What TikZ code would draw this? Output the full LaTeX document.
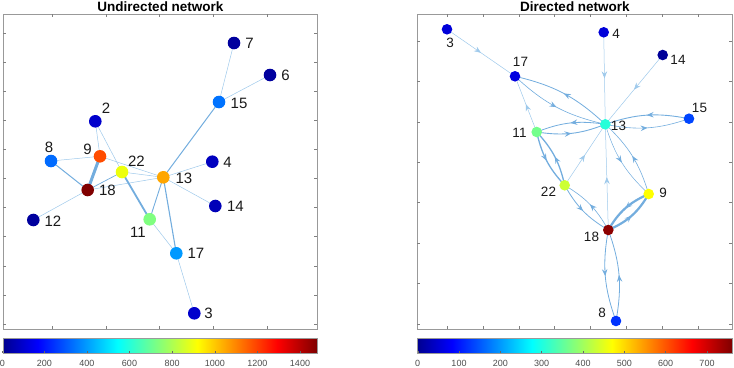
\documentclass[tikz,border=0pt]{standalone}
\usepackage{fontspec}
\setmainfont{Liberation Sans}
\usetikzlibrary{arrows.meta,decorations.markings}
\pgfdeclarehorizontalshading{jetmap}{100bp}{rgb(0bp)=(0,0,0.56); rgb(25bp)=(0,0,0.56); rgb(30.56bp)=(0,0,1); rgb(43.25bp)=(0,1,1); rgb(55.95bp)=(1,1,0); rgb(68.65bp)=(1,0,0); rgb(75bp)=(0.5,0,0); rgb(100bp)=(0.5,0,0)}
\definecolor{ethin}{rgb}{0.62,0.79,0.92}
\definecolor{emed}{rgb}{0.45,0.68,0.87}
\definecolor{labc}{rgb}{0.1,0.1,0.1}
\definecolor{jnavy}{rgb}{0,0,0.62}
\definecolor{jdblue}{rgb}{0,0,0.8}
\definecolor{jblueA}{rgb}{0,0,0.75}
\definecolor{jblueB}{rgb}{0,0,0.72}
\definecolor{jblueC}{rgb}{0,0,0.85}
\definecolor{jblueD}{rgb}{0,0,0.88}
\definecolor{jnavyR}{rgb}{0,0,0.6}
\definecolor{jmid}{rgb}{0,0.45,1}
\definecolor{jmidB}{rgb}{0,0.42,1}
\definecolor{jlight}{rgb}{0,0.6,1}
\definecolor{jbR15}{rgb}{0,0.27,1}
\definecolor{jbR8}{rgb}{0,0.2,1}
\definecolor{jorred}{rgb}{1,0.3,0}
\definecolor{jyel}{rgb}{0.93,1,0.05}
\definecolor{jyelR}{rgb}{1,1,0}
\definecolor{jygR}{rgb}{0.8,1,0.2}
\definecolor{jorange}{rgb}{1,0.65,0}
\definecolor{jdred}{rgb}{0.5,0,0}
\definecolor{jdredR}{rgb}{0.55,0,0}
\definecolor{jgreen}{rgb}{0.5,1,0.5}
\definecolor{jgreenR}{rgb}{0.45,1,0.55}
\definecolor{jcyan}{rgb}{0.15,1,0.85}
\tikzset{
  frame/.style={draw=black!40, line width=0.6pt},
  tk/.style={draw=black!50, line width=0.5pt},
  dotL/.style={circle, inner sep=0pt, minimum size=12.6pt, fill=#1, draw=none},
  dotR/.style={circle, inner sep=0pt, minimum size=10.6pt, fill=#1, draw=none},
  labL/.style={text=labc, font=\fontsize{15}{15}\selectfont, inner sep=0pt},
  labR/.style={text=labc, font=\fontsize{13.5}{13.5}\selectfont, inner sep=0pt},
  cbl/.style={text=black!70, font=\fontsize{9}{9}\selectfont, inner sep=0pt},
  ttl/.style={text=black, font=\fontsize{13.5}{13.5}\selectfont\bfseries, inner sep=0pt, anchor=base},
  ea/.style={draw=ethin, line width=0.5pt},
  eb/.style={draw=emed, line width=#1},
  arr/.style={postaction={decorate}, decoration={markings, mark=at position 0.5 with {\arrow{Stealth[length=7pt,width=5.5pt,inset=2.5pt]}}}},
  da/.style={ea, arr, color=ethin},
  db/.style={eb=#1, arr, color=emed},
}
\begin{document}
\begin{tikzpicture}[x=1pt,y=1pt]
\useasboundingbox (0,0) rectangle (734,-367);
% ---------- titles
\node[ttl] (t1) at (160.5,-11) {Undirected network};
\node[ttl] (t2) at (575,-11) {Directed network};
% ---------- frames
\draw[frame] (3,-14) rectangle (317,-329);
\draw[frame] (417,-14) rectangle (732,-329);
\foreach \x in {52.3,106,159.7,213.4,267} {
  \draw[tk] (\x,-14) -- (\x,-17);
  \draw[tk] (\x,-329) -- (\x,-326);
}
\foreach \k in {0,...,10} {
  \draw[tk] (3,-33-29.1*\k) -- (6,-33-29.1*\k);
  \draw[tk] (317,-33-29.1*\k) -- (314,-33-29.1*\k);
}
\foreach \k in {0,...,7} {
  \draw[tk] (447+35.9*\k,-14) -- (447+35.9*\k,-17);
  \draw[tk] (447+35.9*\k,-329) -- (447+35.9*\k,-326);
  \draw[tk] (417,-41-40.4*\k) -- (420,-41-40.4*\k);
  \draw[tk] (732,-41-40.4*\k) -- (729,-41-40.4*\k);
}
% ---------- colorbars
\shade[shading=jetmap] (3,-338) rectangle (317,-353);
\draw[frame] (3,-338) rectangle (317,-353);
\shade[shading=jetmap] (417,-338) rectangle (732,-353);
\draw[frame] (417,-338) rectangle (732,-353);
\foreach \x/\v in {2.5/0,44.3/200,86.9/400,129.5/600,172.1/800,214.8/1000,257.4/1200,300/1400} {
  \node[cbl] at (\x,-363) {\v};
  \draw[black!60, line width=0.4pt] (\x,-353) -- (\x,-351);
}
\foreach \x/\v in {417.7/0,459/100,500.3/200,541.6/300,583/400,624.3/500,665.6/600,707/700} {
  \node[cbl] at (\x,-363) {\v};
  \draw[black!60, line width=0.4pt] (\x,-353) -- (\x,-351);
}
% ---------- undirected network: positions
\coordinate (L7) at (234,-43);
\coordinate (L6) at (270,-75);
\coordinate (L15) at (219,-102);
\coordinate (L2) at (95.3,-121.3);
\coordinate (L8) at (51,-161);
\coordinate (L9) at (100,-156.3);
\coordinate (L22) at (122,-172);
\coordinate (L4) at (212.3,-161.7);
\coordinate (L13) at (163.3,-177.3);
\coordinate (L18) at (87.7,-190);
\coordinate (L14) at (215.3,-206);
\coordinate (L12) at (33.3,-220);
\coordinate (L11) at (149.7,-219.3);
\coordinate (L17) at (176.3,-253.3);
\coordinate (L3) at (194.3,-313.3);
% edges
\draw[ea] (L7) -- (L15);
\draw[ea] (L6) -- (L15);
\draw[eb=1pt] (L15) -- (L13);
\draw[ea] (L2) -- (L9);
\draw[ea] (L2) -- (L22);
\draw[ea] (L8) -- (L9);
\draw[eb=1pt] (L8) -- (L18);
\draw[ea] (L9) -- (L13);
\draw[ea] (L22) -- (L13);
\draw[eb=0.7pt] (L18) -- (L22);
\draw[ea] (L18) -- (L13);
\draw[ea] (L18) -- (L12);
\draw[eb=1.8pt] (L22) -- (L11);
\draw[eb=0.9pt] (L13) -- (L11);
\draw[eb=1.1pt] (L13) -- (L17);
\draw[ea] (L13) -- (L4);
\draw[ea] (L13) -- (L14);
\draw[ea] (L11) -- (L17);
\draw[ea] (L17) -- (L3);
\draw[eb=3pt] (L9) -- (L18);
% nodes
\node[dotL=jnavy] (n7) at (L7) {};
\node[dotL=jnavy] (n6) at (L6) {};
\node[dotL=jmid] (n15) at (L15) {};
\node[dotL=jdblue] (n2) at (L2) {};
\node[dotL=jmidB] (n8) at (L8) {};
\node[dotL=jorred] (n9) at (L9) {};
\node[dotL=jyel] (n22) at (L22) {};
\node[dotL=jblueA] (n4) at (L4) {};
\node[dotL=jorange] (n13) at (L13) {};
\node[dotL=jdred] (n18) at (L18) {};
\node[dotL=jblueB] (n14) at (L14) {};
\node[dotL=jnavy] (n12) at (L12) {};
\node[dotL=jgreen] (n11) at (L11) {};
\node[dotL=jlight] (n17) at (L17) {};
\node[dotL=jdblue] (n3) at (L3) {};
% labels
\node[labL] (l7) at (249.5,-43) {7};
\node[labL] (l6) at (285.5,-75.5) {6};
\node[labL] (l15) at (239,-103) {15};
\node[labL] (l2) at (106,-108) {2};
\node[labL] (l8) at (49,-147) {8};
\node[labL] (l9) at (87.5,-149.5) {9};
\node[labL] (l22) at (136.5,-161.5) {22};
\node[labL] (l4) at (227.5,-162) {4};
\node[labL] (l13) at (184,-178) {13};
\node[labL] (l18) at (107.5,-190.5) {18};
\node[labL] (l14) at (235.5,-206.5) {14};
\node[labL] (l12) at (53,-221.5) {12};
\node[labL] (l11) at (138,-232.5) {11};
\node[labL] (l17) at (196,-253.5) {17};
\node[labL] (l3) at (208.5,-313.5) {3};
% ---------- directed network: positions
\coordinate (R3) at (447,-29.3);
\coordinate (R4) at (603.7,-32.3);
\coordinate (R14) at (662.7,-55);
\coordinate (R17) at (515,-76.3);
\coordinate (R15) at (689,-118.7);
\coordinate (R13) at (605.3,-124.3);
\coordinate (R11) at (536.7,-132);
\coordinate (R22) at (564.7,-185.3);
\coordinate (R9) at (648.7,-194);
\coordinate (R18) at (608.3,-230);
\coordinate (R8) at (616,-321);
% edges
\draw[da] (R3) -- (R17);
\draw[da] (R4) -- (R13);
\draw[da] (R14) -- (R13);
\draw[da] (R11) -- (R17);
\draw[da] (R22) -- (R13);
\draw[da] (R18) -- (R13);
\draw[db=0.6pt] (R17) to[bend right=15] (R13);
\draw[db=0.8pt] (R13) to[bend right=15] (R17);
\draw[db=0.9pt] (R15) to[bend right=15] (R13);
\draw[db=0.6pt] (R13) to[bend right=15] (R15);
\draw[db=0.8pt] (R13) to[bend right=15] (R11);
\draw[db=0.9pt] (R11) to[bend right=15] (R13);
\draw[db=1.3pt] (R11) to[bend right=15] (R22);
\draw[db=1.3pt] (R22) to[bend right=15] (R11);
\draw[db=0.5pt] (R13) to[bend right=15] (R9);
\draw[db=0.6pt] (R9) to[bend right=15] (R13);
\draw[db=0.8pt] (R22) to[bend right=15] (R18);
\draw[db=0.6pt] (R18) to[bend right=15] (R22);
\draw[db=2.2pt] (R9) to[bend right=18] (R18);
\draw[db=2.2pt] (R18) to[bend right=18] (R9);
\draw[db=0.8pt] (R18) to[bend right=15] (R8);
\draw[db=0.8pt] (R8) to[bend right=15] (R18);
% nodes
\node[dotR=jblueC] (m3) at (R3) {};
\node[dotR=jblueC] (m4) at (R4) {};
\node[dotR=jnavyR] (m14) at (R14) {};
\node[dotR=jblueD] (m17) at (R17) {};
\node[dotR=jbR15] (m15) at (R15) {};
\node[dotR=jcyan] (m13) at (R13) {};
\node[dotR=jgreenR] (m11) at (R11) {};
\node[dotR=jygR] (m22) at (R22) {};
\node[dotR=jyelR] (m9) at (R9) {};
\node[dotR=jdredR] (m18) at (R18) {};
\node[dotR=jbR8] (m8) at (R8) {};
% labels
\node[labR] (k3) at (450,-42.5) {3};
\node[labR] (k4) at (616,-34) {4};
\node[labR] (k14) at (678,-59.5) {14};
\node[labR] (k17) at (520.5,-62) {17};
\node[labR] (k15) at (699.5,-108) {15};
\node[labR] (k13) at (618.5,-125.5) {13};
\node[labR] (k11) at (519.5,-133) {11};
\node[labR] (k22) at (548.5,-191.5) {22};
\node[labR] (k9) at (663,-193) {9};
\node[labR] (k18) at (591.5,-237) {18};
\node[labR] (k8) at (602,-313) {8};
\end{tikzpicture}
\end{document}
